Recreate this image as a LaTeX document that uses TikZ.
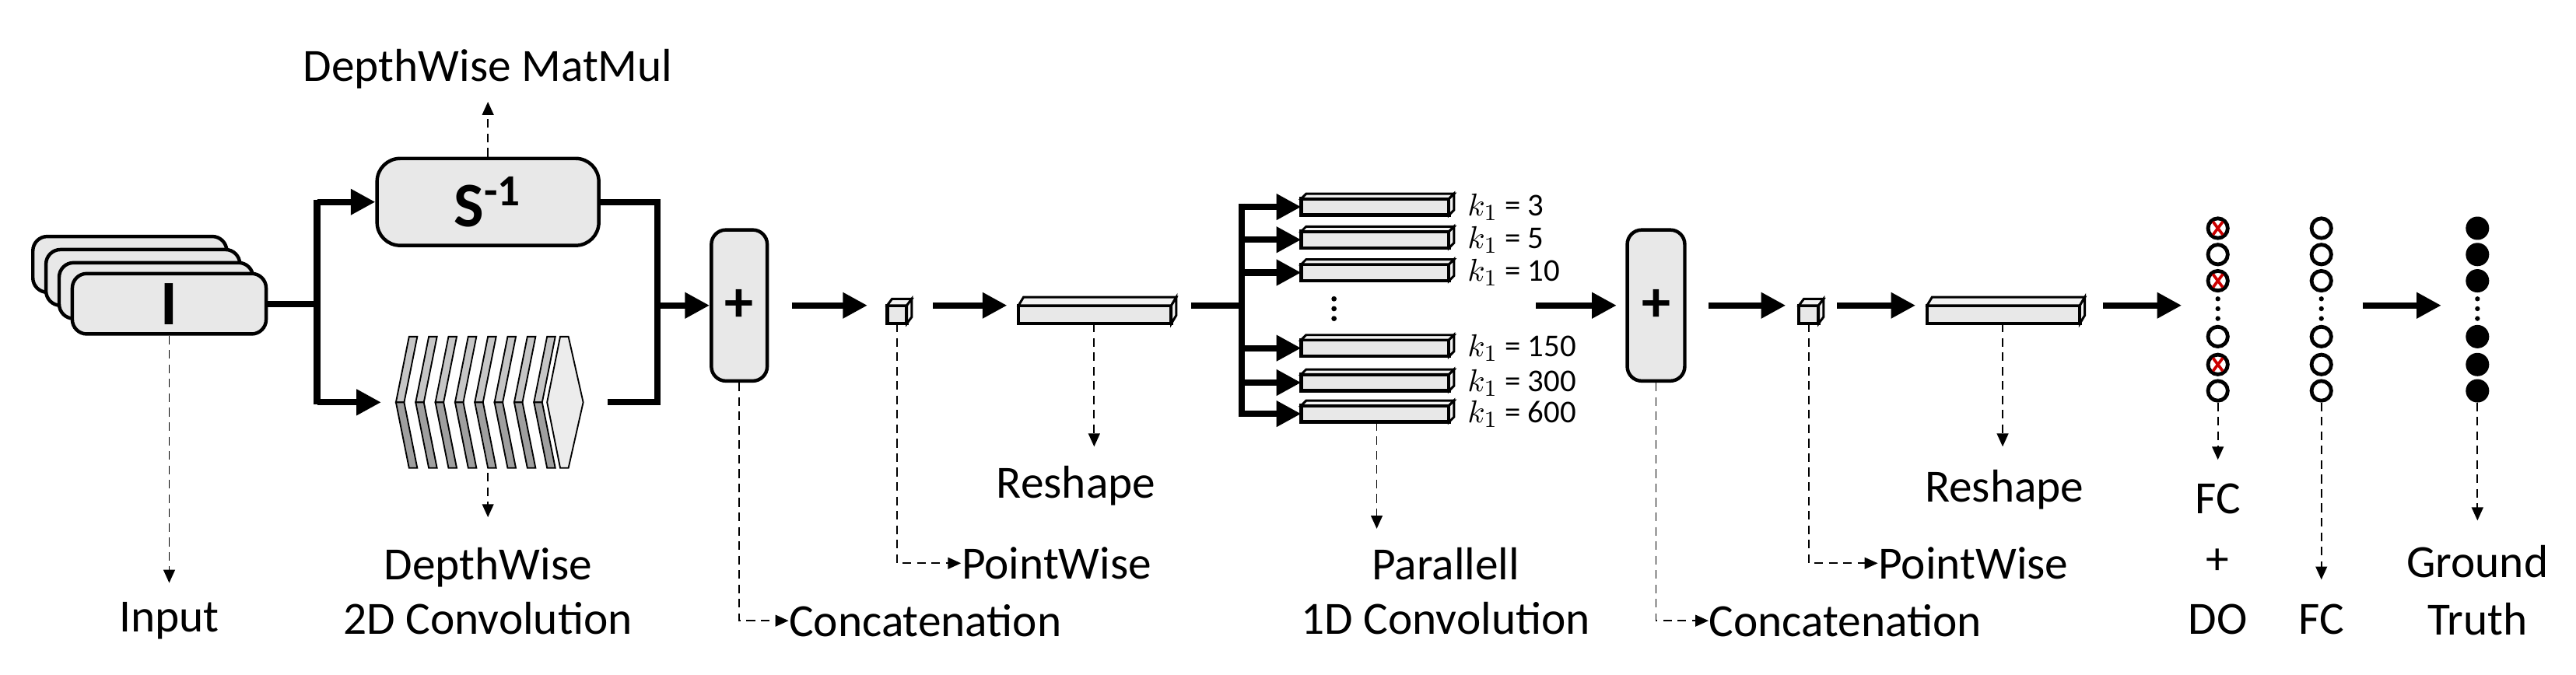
\documentclass[tikz,border=0pt]{standalone}
\usepackage{fontspec}
\setmainfont{Carlito}
\usetikzlibrary{arrows.meta,calc}
\begin{document}
\begin{tikzpicture}[x=0.02cm,y=-0.02cm,
  box/.style={draw,line width=1.2pt,fill=gray!18,rounded corners=5pt},
  big/.style={line width=2.2pt,-{Triangle[length=0.3cm,width=0.3cm]}},
  thick line/.style={line width=2.2pt},
  dsh/.style={densely dashed,line width=0.5pt,-{Triangle[length=0.16cm,width=0.14cm]}},
  lbl/.style={font=\fontsize{16}{19}\selectfont,inner sep=0pt},
  klbl/.style={font=\fontsize{11}{13}\selectfont,anchor=west,inner sep=0pt},
  nrn/.style={circle,draw,line width=1.3pt,minimum size=0.24cm,inner sep=0pt,fill=white},
  gt/.style={circle,draw,fill=black,minimum size=0.27cm,inner sep=0pt}]
\useasboundingbox (0,0) rectangle (1568,411);
% input stack
\foreach \i in {3,2,1}{\draw[box] ({44-8*\i},{168-8*\i}) rectangle ({162-8*\i},{202-8*\i});}
\node[box,minimum width=2.36cm,minimum height=0.68cm,font=\fontsize{22}{24}\selectfont\bfseries] (I) at (103,185) {I};
\node[lbl] (input) at (103,378) {Input};
\draw[dsh] (I.south) -- (103,355);
% S box
\node[box,minimum width=2.7cm,minimum height=1.06cm,rounded corners=8pt,font=\fontsize{22}{24}\selectfont\bfseries] (S) at (297,123) {S\textsuperscript{-1}};
\node[lbl] (mm) at (297,42) {DepthWise MatMul};
\draw[dsh] (S.north) -- (297,62);
% conv stack
\foreach \i in {0,...,7}{
  \pgfmathsetmacro{\a}{241+12*\i}
  \fill[gray!45,draw=black,line width=0.5pt] (\a,245) -- (\a+8,205) -- (\a+13,205) -- (\a+5,245) -- cycle;
  \fill[gray!75,draw=black,line width=0.5pt] (\a,245) -- (\a+8,285) -- (\a+13,285) -- (\a+5,245) -- cycle;
}
\draw[fill=gray!15,line width=0.5pt] (333,245) -- (341,205) -- (346,205) -- (355,245) -- (346,285) -- (341,285) -- cycle;
\coordinate (convW) at (232,245);
\coordinate (convE) at (370,245);
\coordinate (convS) at (297,288);
\node[lbl,align=center] (dw) at (297,360) {DepthWise\\2D Convolution};
\draw[dsh] (convS) -- (297,315);
% branching
\coordinate (b1) at (193,185);
\draw[thick line] (I.east) -- (b1);
\draw[big] (193,123) -- (S.west);
\draw[big] (193,245) -- (convW);
\draw[thick line] (193,121.9) -- (193,246.1);
\draw[thick line] (S.east) -- (400,123) -- (400,245) -- (convE);
% plus 1
\node[box,minimum width=0.68cm,minimum height=1.84cm,font=\fontsize{20}{22}\selectfont\bfseries] (P1) at (450,186) {+};
\draw[big] (400,186) -- (P1.west);
\node[lbl,anchor=west] (cat1) at (480,378) {Concatenation};
\draw[dsh] (P1.south) -- (450,378) -- (cat1.west);
% cube 1
\draw[line width=1.2pt,fill=gray!18] (540,186) rectangle (552,197);
\draw[line width=0.8pt,fill=gray!10] (540,186) -- (543,182) -- (555,182) -- (552,186) -- cycle;
\draw[line width=0.8pt,fill=gray!10] (552,186) -- (555,182) -- (555,193) -- (552,197) -- cycle;
\coordinate (c1) at (546,197);
\draw[big] (482,186) -- (528,186);
\node[lbl,anchor=west] (pw1) at (585,343) {PointWise};
\draw[dsh] (c1) -- (546,343) -- (pw1.west);
% reshape bar 1
\draw[big] (568,186) -- (613,186);
\draw[line width=1.2pt,fill=gray!18] (620,186) rectangle (713,197);
\draw[line width=0.8pt,fill=gray!10] (620,186) -- (623,181) -- (716,181) -- (713,186) -- cycle;
\draw[line width=0.8pt,fill=gray!10] (713,186) -- (716,181) -- (716,192) -- (713,197) -- cycle;
\coordinate (r1) at (666,197);
\node[lbl] (rs1) at (655,296) {Reshape};
\draw[dsh] (r1) -- (666,272);
% parallel conv
\draw[thick line] (725,186) -- (756,186);
\draw[thick line] (756,124) -- (756,254);
\foreach \y/\k in {126/3,146/5,166/10,212/150,233/300,252/600}{
  \draw[line width=1.2pt,fill=gray!18] (792,\y-5) rectangle (882,\y+5);
  \draw[line width=0.8pt,fill=gray!10] (792,\y-5) -- (795,\y-8) -- (885,\y-8) -- (882,\y-5) -- cycle;
  \draw[line width=0.8pt,fill=gray!10] (882,\y-5) -- (885,\y-8) -- (885,\y+2) -- (882,\y+5) -- cycle;
  \draw[big] (756,\y) -- (792,\y);
  \node[klbl] at (893,\y) {$k_1$ = \k};
}
\foreach \y in {182,188,194}{\fill (812,\y) circle (1.6);}
\coordinate (pb) at (838,257);
\node[lbl,align=center] (par) at (880,360) {Parallell\\1D Convolution};
\draw[dsh] (pb) -- (838,322);
% plus 2
\draw[big] (935,186) -- (984,186);
\node[box,minimum width=0.7cm,minimum height=1.84cm,font=\fontsize{20}{22}\selectfont\bfseries] (P2) at (1008,186) {+};
\node[lbl,anchor=west] (cat2) at (1040,378) {Concatenation};
\draw[dsh] (P2.south) -- (1008,378) -- (cat2.west);
% cube 2
\draw[big] (1040,186) -- (1087,186);
\draw[line width=1.2pt,fill=gray!18] (1095,186) rectangle (1107,197);
\draw[line width=0.8pt,fill=gray!10] (1095,186) -- (1098,182) -- (1110,182) -- (1107,186) -- cycle;
\draw[line width=0.8pt,fill=gray!10] (1107,186) -- (1110,182) -- (1110,193) -- (1107,197) -- cycle;
\coordinate (c2) at (1101,197);
\node[lbl,anchor=west] (pw2) at (1143,343) {PointWise};
\draw[dsh] (c2) -- (1101,343) -- (pw2.west);
% reshape bar 2
\draw[big] (1118,186) -- (1166,186);
\draw[line width=1.2pt,fill=gray!18] (1173,186) rectangle (1266,197);
\draw[line width=0.8pt,fill=gray!10] (1173,186) -- (1176,181) -- (1269,181) -- (1266,186) -- cycle;
\draw[line width=0.8pt,fill=gray!10] (1266,186) -- (1269,181) -- (1269,192) -- (1266,197) -- cycle;
\coordinate (r2) at (1219,197);
\node[lbl] (rs2) at (1220,298) {Reshape};
\draw[dsh] (r2) -- (1219,272);
\draw[big] (1280,186) -- (1328,186);
% neurons
\foreach \y [count=\n] in {139,155,171,205,222,238}{
  \node[nrn] (a\n) at (1350,\y) {};
  \node[nrn] (b\n) at (1413,\y) {};
  \node[gt] (g\n) at (1508,\y) {};
}
\foreach \n in {1,3,5}{
  \draw[red!80!black,line width=1pt] ($(a\n)+(-3,-4)$) -- ($(a\n)+(3,4)$);
  \draw[red!80!black,line width=1pt] ($(a\n)+(-3,4)$) -- ($(a\n)+(3,-4)$);
}
\foreach \x in {1350,1413,1508}{\foreach \y in {182,188,194}{\fill (\x,\y) circle (1.5);}}
\draw[big] (1438,186) -- (1486,186);
\node[lbl] (fc1) at (1350,304) {FC};
\node[lbl] (plus) at (1350,342) {+};
\node[lbl] (do) at (1350,377) {DO};
\node[lbl] (fc2) at (1413,377) {FC};
\node[lbl] (gr) at (1508,342) {Ground};
\node[lbl] (tr) at (1508,377) {Truth};
\draw[dsh] (a6.south) -- (1350,280);
\draw[dsh] (b6.south) -- (1413,353);
\draw[dsh] (g6.south) -- (1508,317);
\end{tikzpicture}
\end{document}
